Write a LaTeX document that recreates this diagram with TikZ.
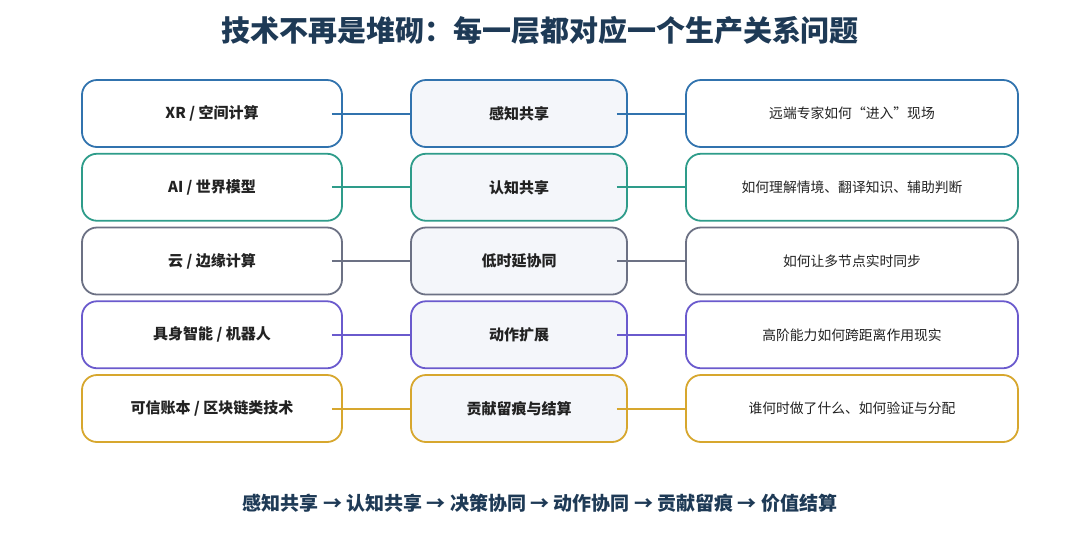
\documentclass[tikz,border=0pt]{standalone}
\usepackage{fontspec}
\setmainfont{Noto Sans CJK SC}
\usetikzlibrary{positioning}
\definecolor{titleColor}{HTML}{1E3A56}
\definecolor{xrColor}{HTML}{3173AE}
\definecolor{aiColor}{HTML}{2E9C8A}
\definecolor{cloudColor}{HTML}{6C7184}
\definecolor{robotColor}{HTML}{6A5ACD}
\definecolor{ledgerColor}{HTML}{D7A72E}
\definecolor{shareFill}{HTML}{F4F6FA}
\definecolor{textColor}{HTML}{222222}
\tikzstyle{canvas} = [x = 1pt, y = -1pt]
\tikzstyle{layerBox} = [line width=1.8pt, rounded corners=15pt, minimum height=67pt, text=textColor, inner sep=0pt]
\tikzstyle{techBox} = [layerBox, fill=white, minimum width=260pt, font=\bfseries\fontsize{15}{18}\selectfont]
\tikzstyle{shareBox} = [layerBox, fill=shareFill, minimum width=216pt, font=\bfseries\fontsize{15}{18}\selectfont]
\tikzstyle{questionBox} = [layerBox, fill=white, minimum width=332pt, font=\fontsize{13.8}{16}\selectfont]
\tikzstyle{linkLine} = [line width=2pt]
\newcommand{\rowGap}{73.75}
\newcommand{\layerRow}[5]{
  \pgfmathsetmacro{\rowY}{113.5 + (#1 - 1) * \rowGap}
  \node [techBox, draw=#2] (tech#1) at (212, \rowY) {#3};
  \node [shareBox, draw=#2] (share#1) at (519, \rowY) {#4};
  \node [questionBox, draw=#2] (question#1) at (852, \rowY) {#5};
  \draw [linkLine, #2] ([xshift=-11pt]tech#1.east) -- (share#1.west);
  \draw [linkLine, #2] ([xshift=-11pt]share#1.east) -- (question#1.west);
}

\begin{document}
\begin{tikzpicture}[canvas]
\fill [white] (0,0) rectangle (1080,547);
\useasboundingbox (0,0) rectangle (1080,547);
\node [font=\bfseries\fontsize{29}{34}\selectfont, text=titleColor] (title) at (540, 30) {技术不再是堆砌：每一层都对应一个生产关系问题};
\layerRow{1}{xrColor}{XR / 空间计算}{感知共享}{远端专家如何“进入”现场}
\layerRow{2}{aiColor}{AI / 世界模型}{认知共享}{如何理解情境、翻译知识、辅助判断}
\layerRow{3}{cloudColor}{云 / 边缘计算}{低时延协同}{如何让多节点实时同步}
\layerRow{4}{robotColor}{具身智能 / 机器人}{动作扩展}{高阶能力如何跨距离作用现实}
\layerRow{5}{ledgerColor}{可信账本 / 区块链类技术}{贡献留痕与结算}{谁何时做了什么、如何验证与分配}
\node [font=\bfseries\fontsize{19}{22}\selectfont, text=titleColor] (chain) at (540, 503) {感知共享 → 认知共享 → 决策协同 → 动作协同 → 贡献留痕 → 价值结算};
\end{tikzpicture}
\end{document}
